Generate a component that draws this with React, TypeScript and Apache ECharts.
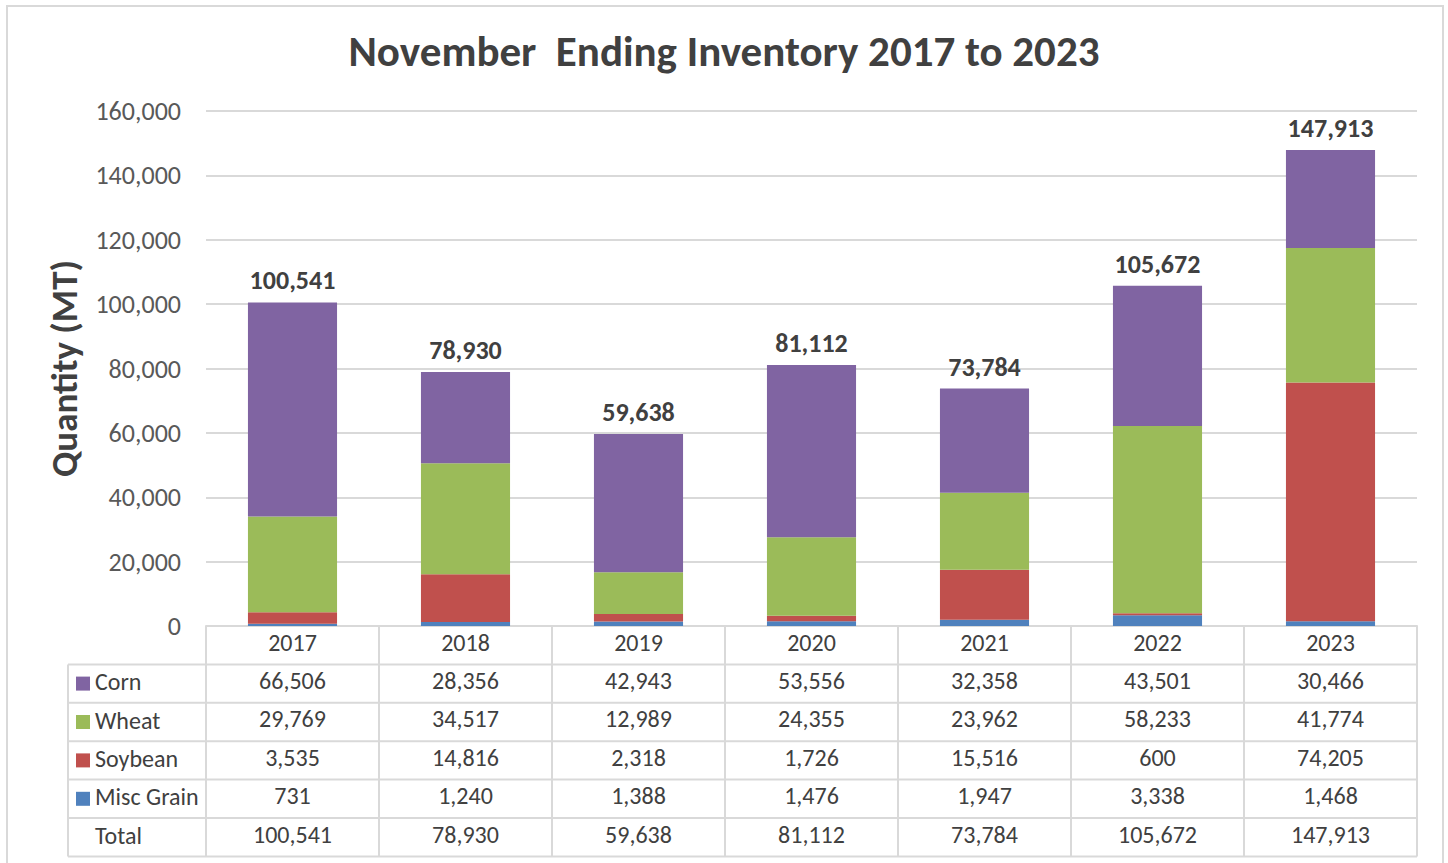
import React, { useEffect, useRef } from "react";
import * as echarts from "echarts";

const years = ["2017", "2018", "2019", "2020", "2021", "2022", "2023"];
const corn = [66506, 28356, 42943, 53556, 32358, 43501, 30466];
const wheat = [29769, 34517, 12989, 24355, 23962, 58233, 41774];
const soybean = [3535, 14816, 2318, 1726, 15516, 600, 74205];
const miscGrain = [731, 1240, 1388, 1476, 1947, 3338, 1468];
const totals = [100541, 78930, 59638, 81112, 73784, 105672, 147913];
const yTicks = { min: 0, max: 160000, interval: 20000 };

const FONT = "Carlito, Calibri, Lato, 'Open Sans', sans-serif";
const TEXT = "#404040";
const LINE = "#d9d9d9";
const COLORS = { corn: "#8064A2", wheat: "#9BBB59", soybean: "#C0504D", misc: "#4F81BD" };

const fmt = (v: number) => v.toLocaleString("en-US");

export default function App() {
  const ref = useRef<HTMLDivElement>(null);
  useEffect(() => {
    if (!ref.current) return;
    const chart = echarts.init(ref.current, undefined, { renderer: "svg" });
    const W = 1448, H = 863;
    const gridLeft = 206, gridRight = 1417, gridTop = 111, gridBottom = 626;
    const rowH = 38.4;
    const tableLeft = 68;
    const nRows = 5;
    const tableBottom = gridBottom + rowH * (nRows + 1);
    const tableFont = 24;

    const rows = [
      { name: "Corn", values: corn, color: COLORS.corn },
      { name: "Wheat", values: wheat, color: COLORS.wheat },
      { name: "Soybean", values: soybean, color: COLORS.soybean },
      { name: "Misc Grain", values: miscGrain, color: COLORS.misc },
      { name: "Total", values: totals, color: null as string | null },
    ];

    const xAxes: any[] = [
      {
        type: "category",
        data: years,
        gridIndex: 0,
        position: "bottom",
        axisLine: { show: true, lineStyle: { color: LINE, width: 2 } },
        axisTick: { show: false },
        axisLabel: { fontFamily: FONT, fontSize: tableFont, color: TEXT, margin: 16, verticalAlign: "middle" },
      },
    ];
    rows.forEach((r, i) => {
      xAxes.push({
        type: "category",
        data: r.values.map(fmt),
        gridIndex: 0,
        position: "bottom",
        offset: rowH * (i + 1),
        axisLine: { show: false },
        axisTick: { show: false },
        axisLabel: { fontFamily: FONT, fontSize: tableFont, color: TEXT, margin: 16, verticalAlign: "middle", interval: 0 },
      });
    });

    const graphics: any[] = [];
    graphics.push({
      type: "rect",
      shape: { x: 7, y: 6, width: 1436, height: 900 },
      style: { fill: "none", stroke: LINE, lineWidth: 2 },
      silent: true,
    });
    for (let i = 1; i <= nRows + 1; i++) {
      const y = gridBottom + rowH * i;
      graphics.push({
        type: "line",
        shape: { x1: tableLeft, y1: y, x2: gridRight, y2: y },
        style: { stroke: LINE, lineWidth: 2 },
        silent: true,
      });
    }
    const colW = (gridRight - gridLeft) / years.length;
    for (let j = 0; j <= years.length; j++) {
      const x = gridLeft + colW * j;
      graphics.push({
        type: "line",
        shape: { x1: x, y1: gridBottom, x2: x, y2: tableBottom },
        style: { stroke: LINE, lineWidth: 2 },
        silent: true,
      });
    }
    graphics.push({
      type: "line",
      shape: { x1: tableLeft, y1: gridBottom + rowH, x2: tableLeft, y2: tableBottom },
      style: { stroke: LINE, lineWidth: 2 },
      silent: true,
    });
    rows.forEach((r, i) => {
      const cy = gridBottom + rowH * (i + 1) + rowH / 2;
      if (r.color) {
        graphics.push({
          type: "rect",
          shape: { x: 76, y: cy - 7, width: 14, height: 14 },
          style: { fill: r.color },
          silent: true,
        });
      }
      graphics.push({
        type: "text",
        x: 95,
        y: cy - 2,
        style: {
          text: r.name,
          fontFamily: FONT,
          fontSize: tableFont,
          fill: TEXT,
          verticalAlign: "middle",
          align: "left",
        },
        silent: true,
      });
    });

    const barWidth = "51.5%";
    const mkSeries = (name: string, data: number[], color: string, label?: any) => ({
      name,
      type: "bar",
      stack: "total",
      data,
      barWidth,
      itemStyle: { color },
      label: label || { show: false },
      xAxisIndex: 0,
    });

    chart.setOption({
      animation: false,
      backgroundColor: "#ffffff",
      title: {
        text: "November  Ending Inventory 2017 to 2023",
        left: "center",
        top: 25,
        textStyle: { fontFamily: FONT, fontSize: 43, fontWeight: "bold", color: TEXT },
      },
      grid: { left: gridLeft, right: W - gridRight, top: gridTop, bottom: H - gridBottom, containLabel: false },
      xAxis: xAxes,
      yAxis: {
        type: "value",
        min: yTicks.min,
        max: yTicks.max,
        interval: yTicks.interval,
        name: "Quantity (MT)",
        nameLocation: "middle",
        nameGap: 123,
        nameTextStyle: { fontFamily: FONT, fontSize: 37, fontWeight: "bold", color: TEXT },
        axisLine: { show: false },
        axisTick: { show: false },
        axisLabel: { fontFamily: FONT, fontSize: 26, color: "#595959", margin: 25, formatter: (v: number) => fmt(v) },
        splitLine: { lineStyle: { color: LINE, width: 2 } },
      },
      series: [
        mkSeries("Misc Grain", miscGrain, COLORS.misc),
        mkSeries("Soybean", soybean, COLORS.soybean),
        mkSeries("Wheat", wheat, COLORS.wheat),
        mkSeries("Corn", corn, COLORS.corn, {
          show: true,
          position: "top",
          distance: 9,
          fontFamily: FONT,
          fontSize: 26,
          fontWeight: "bold",
          color: TEXT,
          formatter: (p: any) => fmt(totals[p.dataIndex]),
        }),
      ],
      graphic: graphics,
    });
    return () => chart.dispose();
  }, []);
  return (
    <div
      ref={ref}
      style={{ position: "absolute", left: 0, top: 0, width: 1448, height: 863, background: "#fff" }}
    />
  );
}
